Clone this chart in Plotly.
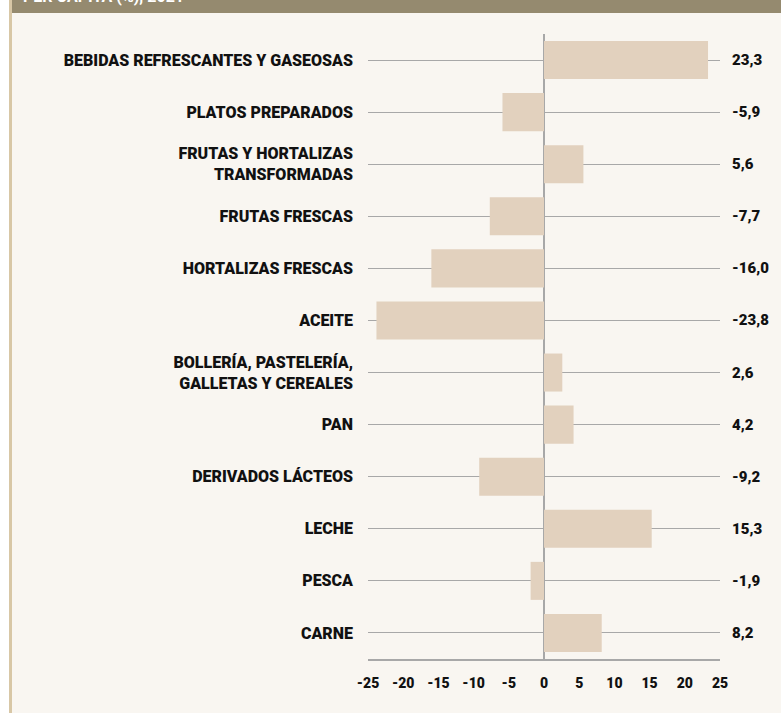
import plotly.graph_objects as go

categories = [
    "BEBIDAS REFRESCANTES Y GASEOSAS",
    "PLATOS PREPARADOS",
    "FRUTAS Y HORTALIZAS<br>TRANSFORMADAS",
    "FRUTAS FRESCAS",
    "HORTALIZAS FRESCAS",
    "ACEITE",
    "BOLLERÍA, PASTELERÍA,<br>GALLETAS Y CEREALES",
    "PAN",
    "DERIVADOS LÁCTEOS",
    "LECHE",
    "PESCA",
    "CARNE",
]
values = [23.3, -5.9, 5.6, -7.7, -16.0, -23.8, 2.6, 4.2, -9.2, 15.3, -1.9, 8.2]
tick_vals = [-25, -20, -15, -10, -5, 0, 5, 10, 15, 20, 25]
tick_text = ["-25", "-20", "-15", "-10", "-5", "0", "5", "10", "15", "20", "25"]
header_text = "PER CÁPITA (%), 2021"

BG = "#f9f6f1"
BAR = "#e2d1be"
GRID = "#a8a8a8"
FONT = "Roboto"

W, H = 781, 713
ML, MR, MT, MB = 368, 61, 34, 54
plot_w = W - ML - MR
plot_h = H - MT - MB

def px_to_paper_x(px):
    return (px - ML) / plot_w

def px_to_paper_y(py):
    return 1 - (py - MT) / plot_h

fig = go.Figure()
fig.add_trace(go.Bar(
    x=values, y=categories, orientation="h",
    marker=dict(color=BAR, line=dict(width=0)),
    hoverinfo="skip",
))

for c, v in zip(categories, values):
    fig.add_annotation(
        x=1, xref="paper", y=c, yref="y",
        text=f"{v:.1f}".replace(".", ","),
        showarrow=False, xanchor="left", xshift=10,
        font=dict(family=FONT, size=15, color="#111111", weight=900),
    )

# header band + left strip
fig.add_shape(type="rect", xref="paper", yref="paper",
              x0=px_to_paper_x(-2), x1=px_to_paper_x(9),
              y0=px_to_paper_y(H + 5), y1=px_to_paper_y(-5),
              fillcolor="#ffffff", line=dict(width=0), layer="below")
fig.add_shape(type="rect", xref="paper", yref="paper",
              x0=px_to_paper_x(12), x1=px_to_paper_x(W + 5),
              y0=px_to_paper_y(13), y1=px_to_paper_y(-5),
              fillcolor="#958a6f", line=dict(width=0), layer="below")
fig.add_shape(type="rect", xref="paper", yref="paper",
              x0=px_to_paper_x(9), x1=px_to_paper_x(12),
              y0=px_to_paper_y(H + 5), y1=px_to_paper_y(-5),
              fillcolor="#d8c7a6", line=dict(width=0), layer="below")
fig.add_annotation(
    x=px_to_paper_x(21), xref="paper", y=1, yref="paper",
    text=header_text, showarrow=False, xanchor="left", yanchor="bottom",
    yshift=26,
    font=dict(family=FONT, size=16, color="#ffffff", weight=700),
)

fig.update_layout(
    width=W, height=H,
    margin=dict(l=ML, r=MR, t=MT, b=MB, pad=0),
    paper_bgcolor=BG, plot_bgcolor=BG,
    bargap=0.27, showlegend=False,
    font=dict(family=FONT, color="#111111"),
)
fig.update_xaxes(
    range=[-25, 25], tickvals=tick_vals, ticktext=tick_text,
    showgrid=False, zeroline=True, zerolinecolor=GRID, zerolinewidth=1.5,
    showline=True, linecolor=GRID, linewidth=1.5,
    ticks="", ticklabelstandoff=10,
    tickfont=dict(family=FONT, size=14, color="#111111", weight=900),
    fixedrange=True,
)
fig.update_yaxes(
    range=[11.5, -0.5], type="category",
    showgrid=True, gridcolor=GRID, gridwidth=1,
    zeroline=False, showline=False, ticks="", ticklabelstandoff=14,
    tickfont=dict(family=FONT, size=16, color="#111111", weight=900),
    fixedrange=True,
)

fig.write_html(
    "out.html",
    config={"displayModeBar": False},
    post_script="document.body.style.margin='0';document.body.style.padding='0';",
)
